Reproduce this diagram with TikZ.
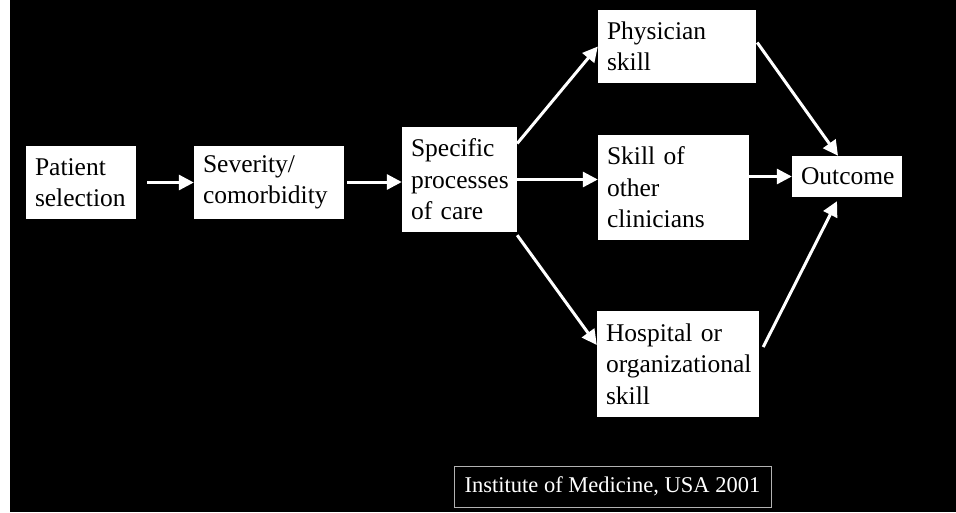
\documentclass[tikz,border=0pt]{standalone}
\usepackage{fontspec}
\setmainfont{Liberation Serif}
\usetikzlibrary{arrows.meta}

\tikzset{
  box/.style={fill=white, text=black, align=left, inner xsep=9pt, inner ysep=0pt,
    font=\fontsize{25.5}{31.5}\selectfont},
  arr/.style={draw=white, line width=3pt, -{Triangle[length=15pt,width=15pt]}}
}

\begin{document}
\begin{tikzpicture}[x=1pt,y=1pt]
  \useasboundingbox (0,0) rectangle (956,-512);
  \fill[black] (10,0) rectangle (956,-512);

  % boxes
  \node[box, text width=92pt, minimum height=73pt] (patient) at (81,-182.5) {Patient\\selection};
  \node[box, text width=132pt, minimum height=73pt] (severity) at (269,-182.5) {Severity/\\comorbidity};
  \node[box, text width=97pt, minimum height=105pt] (specific) at (459.5,-179.5) {Specific\\processes\\of care};
  \node[box, text width=140pt, minimum height=73pt] (physician) at (677,-46.5) {Physician\\skill};
  \node[box, text width=133pt, minimum height=105pt] (other) at (673.5,-187.5) {Skill of\\other\\clinicians};
  \node[box, text width=144pt, minimum height=106pt] (hospital) at (678,-364) {Hospital or\\organizational\\skill};
  \node[box, text width=92pt, minimum height=41pt] (outcome) at (847,-176.5) {Outcome};

  \node[draw=gray!60, line width=1pt, text=white, minimum width=317pt, minimum height=41pt,
    inner sep=0pt, font=\fontsize{22.5}{26}\selectfont] (cite) at (612.5,-486.5) {Institute of Medicine, USA 2001};

  % arrows
  \draw[arr] ([xshift=11pt]patient.east) -- (severity.west);
  \draw[arr] ([xshift=3pt]severity.east |- 0,-182) -- (specific.west |- 0,-182);
  \draw[arr] ([yshift=36pt]specific.east) -- (physician.west);
  \draw[arr] (specific.east) -- (specific.east -| other.west);
  \draw[arr] ([yshift=-3pt]specific.south east) -- ([yshift=19pt]hospital.west);
  \draw[arr] ([xshift=1pt,yshift=4pt]physician.east) -- ([xshift=-9pt]outcome.north);
  \draw[arr] (other.east |- outcome.west) -- (outcome.west);
  \draw[arr] ([xshift=4pt,yshift=17pt]hospital.east) -- ([xshift=-10pt,yshift=-4pt]outcome.south);
\end{tikzpicture}
\end{document}
